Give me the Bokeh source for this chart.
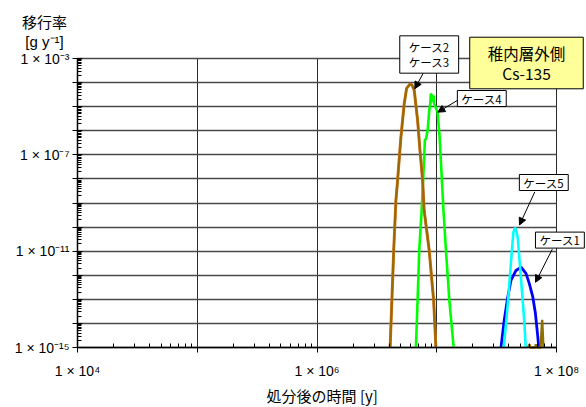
from bokeh.plotting import figure
from bokeh.models import (Range1d, FixedTicker, Label, Arrow, NormalHead,
                          CustomJSTickFormatter)
from bokeh.embed import file_html
from bokeh.resources import INLINE

# ---------------- data ----------------
# time after disposal [y], migration rate [g/y]
case2_t = [4.08e6, 4.22e6, 4.37e6, 4.56e6, 4.71e6, 5.02e6, 5.35e6, 5.60e6, 6.00e6,
           6.22e6, 6.49e6, 6.92e6, 7.28e6, 7.62e6, 7.85e6, 8.65e6, 9.42e6, 9.84e6]
case2_f = [1e-15, 9.1e-14, 1.07e-11, 1.29e-9, 8.7e-9, 5.4e-7, 1.32e-5, 5.75e-5, 8.9e-5,
           7.9e-5, 4.7e-5, 2.7e-6, 1.15e-7, 8.7e-9, 4.9e-10, 1.07e-11, 9.1e-14, 1e-15]
case3_t = [4.08e6, 4.22e6, 4.37e6, 4.56e6, 4.71e6, 5.02e6, 5.35e6, 5.60e6, 6.00e6,
           6.22e6, 6.49e6, 6.92e6, 7.28e6, 7.62e6, 7.85e6, 8.65e6, 9.42e6, 9.84e6]
case3_f = [1e-15, 9.1e-14, 1.07e-11, 1.29e-9, 8.7e-9, 5.4e-7, 1.32e-5, 5.75e-5, 8.9e-5,
           7.9e-5, 4.7e-5, 2.7e-6, 1.15e-7, 8.7e-9, 4.9e-10, 1.07e-11, 9.1e-14, 1e-15]
case4_t = [6.70e6, 6.92e6, 7.14e6, 7.48e6, 7.76e6, 7.96e6, 8.13e6, 8.39e6, 8.65e6,
           8.83e6, 8.93e6, 9.12e6, 9.25e6, 9.42e6, 9.53e6, 1.016e7, 1.057e7, 1.104e7,
           1.138e7, 1.194e7, 1.274e7, 1.384e7]
case4_f = [1e-15, 9.1e-14, 1.07e-11, 4.9e-10, 2.24e-8, 4.0e-7, 4.7e-7, 1.02e-6, 6.9e-6,
           1.32e-5, 3.47e-5, 2.88e-5, 1.55e-5, 2.88e-5, 1.32e-5, 5.8e-6, 5.4e-7, 8.7e-9,
           4.9e-10, 1.07e-11, 9.1e-14, 1e-15]
case5_t = [3.62e7, 3.79e7, 3.96e7, 4.12e7, 4.26e7, 4.37e7, 4.51e7, 4.62e7, 4.74e7,
           4.99e7, 5.22e7, 5.40e7, 5.53e7]
case5_f = [1e-15, 9.8e-15, 1.26e-13, 1.58e-12, 1.48e-11, 6.2e-11, 9.5e-11, 6.8e-11, 3.9e-11,
           1.58e-12, 9.1e-14, 9.8e-15, 1e-15]
case1_t = [3.44e7, 3.66e7, 3.92e7, 4.17e7, 4.59e7, 5.06e7, 5.57e7, 5.93e7, 6.34e7,
           6.67e7, 6.98e7, 7.11e7]
case1_f = [1e-15, 1.35e-14, 1.26e-13, 6.2e-13, 1.58e-12, 2.19e-12, 1.17e-12, 4.5e-13,
           1.26e-13, 2.57e-14, 2.75e-15, 1e-15]
tail_t = [5.79e7, 5.94e7, 6.08e7, 6.62e7, 6.75e7, 6.89e7, 7.36e7, 7.59e7, 7.78e7]
tail_f = [1e-15, 1.35e-15, 1e-15, 1e-15, 1.35e-15, 1e-15, 1e-15, 1.4e-14, 1e-15]

x_label_vals = [1e4, 1e6, 1e8]
x_label_text = ["1 × 10⁴", "1 × 10⁶", "1 × 10⁸"]
y_label_vals = [1e-3, 1e-7, 1e-11, 1e-15]
y_label_text = ["1 × 10⁻³", "1 × 10⁻⁷", "1 × 10⁻¹¹", "1 × 10⁻¹⁵"]
x_decades = [1e4, 1e5, 1e6, 1e7, 1e8]
y_decades = [10.0 ** e for e in range(-15, -2)]
X_MIN, X_MAX = 1e4, 1e8
Y_MIN, Y_MAX = 1e-15, 1e-3

# ---------------- layout ----------------
W, H = 586, 407
# pixel box of the data area inside the canvas
PL, PR, PT, PB = 77, 556, 58, 347

LATIN = "Liberation Sans"
CJK = "Noto Sans CJK JP"


def ax(px):
    return 10 ** (4 + (px - PL) * 4 / (PR - PL))


def ay(py):
    return 10 ** (-3 - (py - PT) * 12 / (PB - PT))


p = figure(width=W, height=H, x_axis_type="log", y_axis_type="log",
           x_range=Range1d(ax(0), ax(W)), y_range=Range1d(ay(H), ay(0)),
           output_backend="svg", toolbar_location=None, min_border=0)
p.title.visible = False
p.background_fill_color = "white"
p.border_fill_color = "white"
p.outline_line_color = None


def minor_list(decs):
    out = []
    for d in decs[:-1]:
        out += [k * d for k in range(2, 10)]
    return out


p.xaxis.ticker = FixedTicker(ticks=x_decades, minor_ticks=minor_list(x_decades))
p.yaxis.ticker = FixedTicker(ticks=y_decades, minor_ticks=minor_list(y_decades))
p.xaxis.fixed_location = Y_MIN
p.yaxis.fixed_location = X_MIN
p.xaxis.bounds = (X_MIN, X_MAX)
p.yaxis.bounds = (Y_MIN, Y_MAX)

fmt_code = """
for (let i = 0; i < vals.length; i++) {
  if (Math.abs(Math.log10(tick) - Math.log10(vals[i])) < 1e-6) return labs[i];
}
return "";
"""
p.xaxis.formatter = CustomJSTickFormatter(args=dict(vals=x_label_vals, labs=x_label_text), code=fmt_code)
p.yaxis.formatter = CustomJSTickFormatter(args=dict(vals=y_label_vals, labs=y_label_text), code=fmt_code)

for ax_ in (p.xaxis, p.yaxis):
    ax_.axis_line_color = "black"
    ax_.axis_line_width = 1.5
    ax_.major_tick_line_color = "black"
    ax_.minor_tick_line_color = "black"
    ax_.major_label_text_font = LATIN
    ax_.major_label_text_font_size = "14px"
    ax_.major_label_text_color = "black"

p.xaxis.major_tick_out = 5
p.xaxis.major_tick_in = 0
p.xaxis.minor_tick_in = 4
p.xaxis.minor_tick_out = 0
p.xaxis.major_label_standoff = 10

p.yaxis.major_tick_out = 5
p.yaxis.major_tick_in = 5
p.yaxis.minor_tick_in = 4
p.yaxis.minor_tick_out = 0
p.yaxis.major_label_standoff = 3

p.xgrid.bounds = (X_MIN, X_MAX)
p.xgrid.cross_bounds = (Y_MIN, Y_MAX)
p.ygrid.bounds = (Y_MIN, Y_MAX)
p.ygrid.cross_bounds = (X_MIN, X_MAX)
p.xgrid.grid_line_color = "#2a2a2a"
p.xgrid.grid_line_width = 1
p.ygrid.grid_line_color = "#4a4a4a"
p.ygrid.grid_line_width = 1.3

# ---------------- curves ----------------
p.line(case4_t, case4_f, line_color="#00FF00", line_width=2.6)
p.line(case2_t, case2_f, line_color="#D9782F", line_width=3.0)
p.line(case3_t, case3_f, line_color="#9A6A00", line_width=2.2)
p.line(case1_t, case1_f, line_color="#0000FF", line_width=2.8)
p.line(case5_t, case5_f, line_color="#00FFFF", line_width=2.6)
p.line(tail_t, tail_f, line_color="#8C7000", line_width=2.4)


# ---------------- annotations (page-pixel positions) ----------------
def text_at(px, py, text, size, font, fill=None, pad=(0, 0), lh=1.2):
    kw = {}
    if fill is not None:
        kw = dict(background_fill_color=fill, border_line_color="black",
                  border_line_width=1,
                  padding=dict(left=pad[0], right=pad[0], top=pad[1], bottom=pad[1]))
    p.add_layout(Label(x=ax(px), y=ay(py), text=text, text_align="center",
                       text_baseline="middle", text_font=font, text_font_size=size,
                       text_color="black", text_line_height=lh, **kw))


def arrow(x0, y0, x1, y1):
    p.add_layout(Arrow(end=NormalHead(size=7, fill_color="black", line_color="black"),
                       x_start=ax(x0), y_start=ay(y0), x_end=ax(x1), y_end=ay(y1),
                       line_color="black", line_width=1))


text_at(428.7, 54, "ケース2\nケース3", "11.5px", CJK, fill="white", pad=(9, 3), lh=0.96)
arrow(422.7, 72.7, 414.3, 88.3)
text_at(481.3, 98, "ケース4", "11.5px", CJK, fill="white", pad=(4, 0))
arrow(456.7, 100, 437.3, 111.7)
text_at(543.3, 182, "ケース5", "11.5px", CJK, fill="white", pad=(4, 0))
arrow(534.3, 191.4, 519, 224.5)
text_at(559.4, 239.6, "ケース1", "11.5px", CJK, fill="white", pad=(4, 0))
arrow(551.8, 248.7, 535, 281.8)
text_at(526, 62.5, "稚内層外側\nCs-135", "15.5px", CJK, fill="#FFFF99", pad=(18, 5), lh=0.89)

text_at(44, 21, "移行率", "15px", CJK)
text_at(44, 40.5, "[g y⁻¹]", "15px", LATIN)
text_at(321.7, 395, "処分後の時間 [y]", "15px", CJK)

open("out.html", "w").write(file_html(p, INLINE))
